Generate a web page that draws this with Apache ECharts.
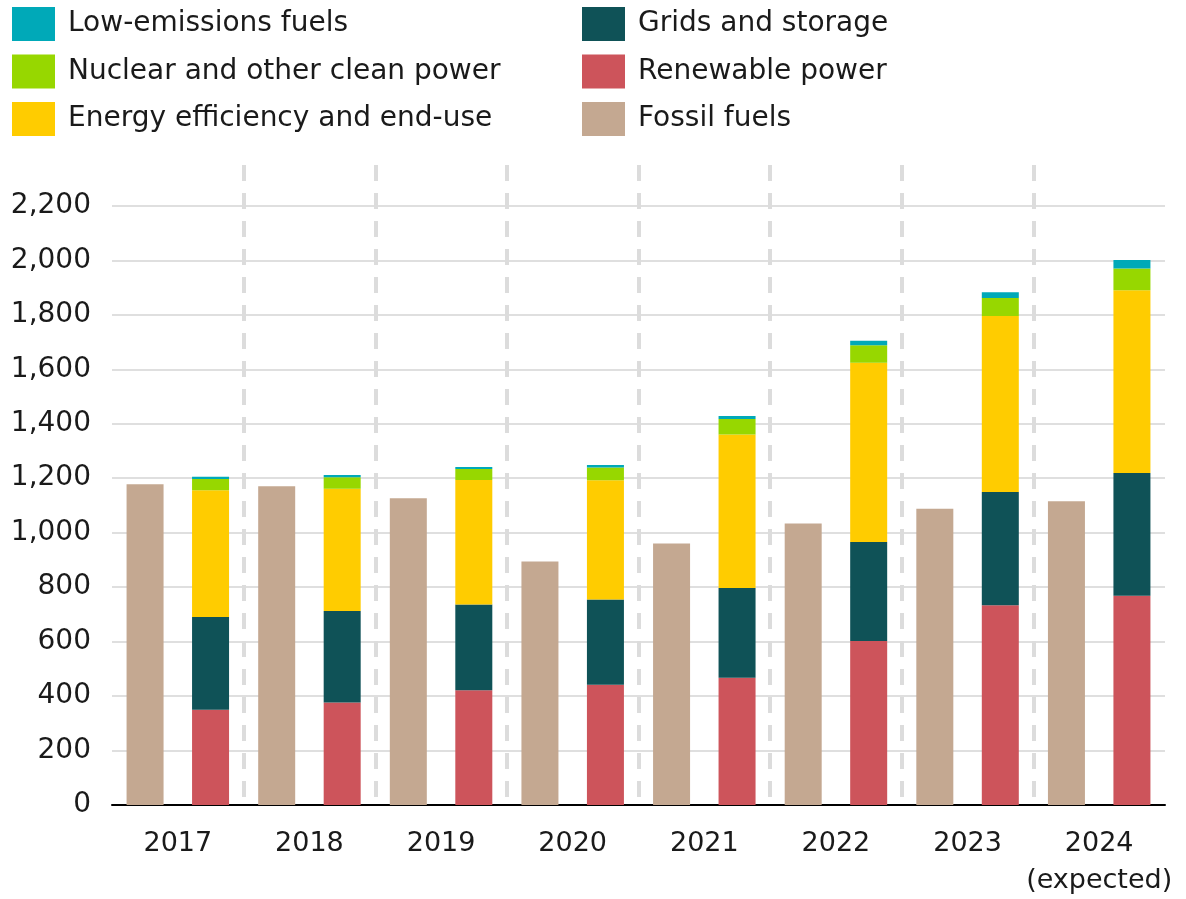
<!DOCTYPE html>
<html>
<head>
<meta charset="utf-8">
<script src="https://cdn.jsdelivr.net/npm/echarts@6/dist/echarts.min.js"></script>
<style>
  html, body { margin: 0; padding: 0; background: #fff; }
  #chart { width: 1186px; height: 899px; }
</style>
</head>
<body>
<div id="chart"></div>
<script>
const years = ["2017", "2018", "2019", "2020", "2021", "2022", "2023", "2024\n(expected)"];
const fossil = [1178, 1170, 1126, 894, 960, 1034, 1088, 1115];
const renewable = [350, 376, 421, 442, 467, 602, 733, 768];
const grids = [340, 336, 315, 313, 330, 364, 416, 451];
const efficiency = [466, 449, 457, 437, 563, 658, 647, 671];
const nuclear = [41, 42, 41, 47, 57, 64, 66, 80];
const lowEmissions = [8, 9, 7, 9, 11, 17, 21, 31];

const FONT = "DejaVu Sans";
const chart = echarts.init(document.getElementById("chart"));

const stacked = (name, data, color) => ({
  name,
  type: "bar",
  stack: "clean",
  data,
  barWidth: 37,
  barGap: "77%",
  itemStyle: { color },
});

const legendBase = {
  orient: "vertical",
  top: 7,
  padding: 0,
  itemWidth: 43,
  itemHeight: 34,
  itemGap: 13.5,
  icon: "rect",
  textStyle: { fontFamily: FONT, fontSize: 28, color: "#1a1a1a", padding: [0, 0, 0, 8] },
};

const option = {
  animation: false,
  textStyle: { fontFamily: FONT },
  legend: [
    { ...legendBase, left: 12, data: ["Low-emissions fuels", "Nuclear and other clean power", "Energy efficiency and end-use"] },
    { ...legendBase, left: 582, data: ["Grids and storage", "Renewable power", "Fossil fuels"] },
  ],
  grid: { left: 112, right: 21, top: 165, bottom: 93, containLabel: false },
  xAxis: {
    type: "category",
    data: years,
    axisLine: { lineStyle: { color: "#000", width: 2 } },
    axisTick: { show: false },
    axisLabel: {
      interval: 0,
      fontFamily: FONT, fontSize: 27, color: "#1a1a1a", margin: 20, lineHeight: 37,
    },
    splitLine: {
      show: true,
      interval: 0,
      showMinLine: false,
      showMaxLine: false,
      lineStyle: { color: "#dcdcdc", width: 4, type: [16, 12] },
    },
  },
  yAxis: {
    type: "value",
    min: 0,
    max: 2350,
    interval: 200,
    axisLine: { show: false },
    axisTick: { show: false },
    axisLabel: {
      showMaxLabel: false,
      fontFamily: FONT, fontSize: 28, color: "#1a1a1a", margin: 21,
      formatter: (v) => v.toLocaleString("en-US"),
    },
    splitLine: { showMaxLine: false, lineStyle: { color: "#d4d4d4", width: 1.5 } },
  },
  series: [
    {
      name: "Fossil fuels",
      type: "bar",
      stack: "fossil",
      data: fossil,
      barWidth: 37,
      barGap: "77%",
      itemStyle: { color: "#C4A891" },
    },
    stacked("Renewable power", renewable, "#CD545B"),
    stacked("Grids and storage", grids, "#0F5257"),
    stacked("Energy efficiency and end-use", efficiency, "#FFCC00"),
    stacked("Nuclear and other clean power", nuclear, "#97D700"),
    stacked("Low-emissions fuels", lowEmissions, "#00A9B8"),
  ],
};

chart.setOption(option);
</script>
</body>
</html>
